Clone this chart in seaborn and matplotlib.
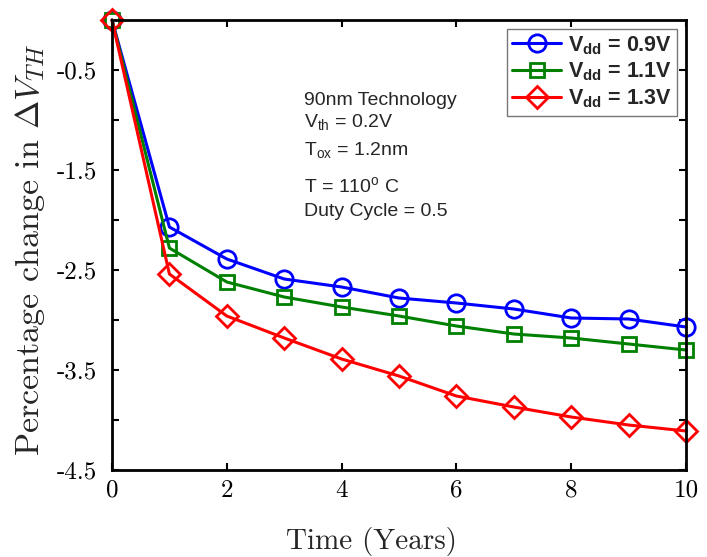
import numpy as np
import pandas as pd
import matplotlib
matplotlib.use("Agg")
import matplotlib.pyplot as plt
import seaborn as sns

years = [0, 1, 2, 3, 4, 5, 6, 7, 8, 9, 10]
vdd_09 = [0.0, -2.07, -2.39, -2.59, -2.67, -2.78, -2.83, -2.89, -2.98, -2.99, -3.07]
vdd_11 = [0.0, -2.28, -2.62, -2.77, -2.87, -2.96, -3.06, -3.14, -3.18, -3.24, -3.30]
vdd_13 = [0.0, -2.54, -2.96, -3.18, -3.39, -3.56, -3.76, -3.87, -3.97, -4.05, -4.11]
series_labels = [r"V$_{\mathbf{dd}}$ = 0.9V", r"V$_{\mathbf{dd}}$ = 1.1V", r"V$_{\mathbf{dd}}$ = 1.3V"]
colors = ["#0000ff", "#008000", "#ff0000"]
markers = ["o", "s", "D"]
x_ticks = [0, 2, 4, 6, 8, 10]
y_ticks = [-4.5, -3.5, -2.5, -1.5, -0.5]
y_minor = [-4.0, -3.0, -2.0, -1.0]
note_lines = ["90nm Technology", r"V$_{\mathrm{th}}$ = 0.2V", r"T$_{\mathrm{ox}}$ = 1.2nm",
              r"T = 110$^{\mathrm{o}}$ C", "Duty Cycle = 0.5"]

sns.set_theme(style="white")
plt.rcParams["font.family"] = ["Liberation Sans", "DejaVu Sans"]
plt.rcParams["mathtext.fontset"] = "custom"
plt.rcParams["mathtext.rm"] = "Liberation Sans"
plt.rcParams["mathtext.it"] = "Liberation Sans:italic"
plt.rcParams["mathtext.bf"] = "Liberation Sans:bold"
plt.rcParams["axes.unicode_minus"] = False

fig = plt.figure(figsize=(7.07, 5.57), dpi=100)
ax = fig.add_axes([112/707, 87/557, (686-112)/707, (470-20)/557])

df = pd.DataFrame({"year": years * 3,
                   "val": vdd_09 + vdd_11 + vdd_13,
                   "series": [series_labels[0]]*len(years) + [series_labels[1]]*len(years) + [series_labels[2]]*len(years)})

msizes = {"o": 12.5, "s": 10, "D": 11}
handles = []
for lab, c, m in zip(series_labels, colors, markers):
    sub = df[df["series"] == lab]
    sns.lineplot(data=sub, x="year", y="val", ax=ax, color=c, marker=m,
                 markersize=msizes[m], markerfacecolor="none", markeredgecolor=c,
                 markeredgewidth=2.0, linewidth=2.2, label=lab, legend=False)
    handles.append(ax.lines[-1])

ax.set_xlim(0, 10)
ax.set_ylim(-4.5, 0)
ax.set_xticks(x_ticks)
ax.set_xticklabels([str(t) for t in x_ticks])
ax.set_yticks(y_ticks)
ax.set_yticklabels([str(t) for t in y_ticks])
ax.set_yticks(y_minor, minor=True)

for lab in ax.get_xticklabels() + ax.get_yticklabels():
    lab.set_family("cmr10")
    lab.set_fontsize(18)

ax.tick_params(axis="both", which="both", direction="in", length=5, width=1.5,
               top=True, right=True, bottom=True, left=True, colors="black")
ax.tick_params(axis="y", which="both", pad=11)
ax.tick_params(axis="x", which="both", pad=7)
for s in ax.spines.values():
    s.set_linewidth(2.0)
    s.set_color("black")
ax.grid(False)
for line in ax.lines:
    line.set_clip_on(False)

ax.set_xlabel("Time (Years)", family="cmr10", fontsize=21)
ax.xaxis.set_label_coords((371-112)/574, -(527-470)/450)
ax.set_ylabel(r"Percentage change in $\Delta V_{TH}$", family="cmr10",
              math_fontfamily="cm", fontsize=24.5)
ax.yaxis.set_label_coords(-(112-47)/574, 0.49)

baselines = [105, 127, 155, 192, 216]
for t, b in zip(note_lines, baselines):
    ax.text(0.334, 1 - (b - 20)/450, t, transform=ax.transAxes, fontsize=14,
            va="baseline", ha="left")

leg = ax.legend(handles=handles, labels=series_labels, loc="upper right",
                prop={"weight": "bold", "size": 15.5}, frameon=True, fancybox=False,
                borderaxespad=0.4, handlelength=2.3, handletextpad=0.3,
                labelspacing=0.2, borderpad=0.25)
leg.get_frame().set_edgecolor("#555555")
leg.get_frame().set_linewidth(1.0)

fig.savefig("out.png", dpi=100)
